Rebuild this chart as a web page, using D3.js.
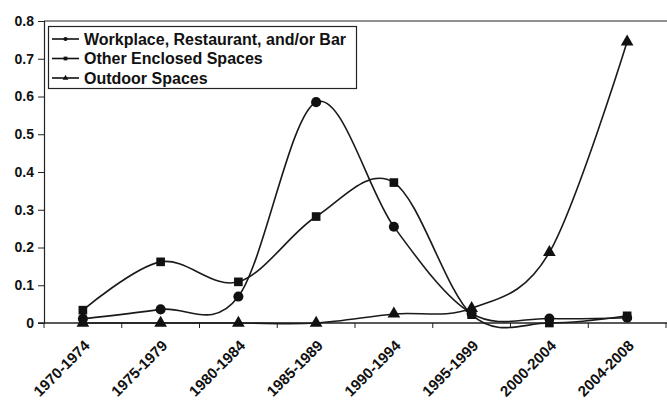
<!DOCTYPE html>
<html>
<head>
<meta charset="utf-8">
<script src="https://cdn.jsdelivr.net/npm/d3@7"></script>
<style>
  body { margin: 0; background: #fff; }
  text { font-family: "Liberation Sans", Arial, sans-serif; font-weight: bold; fill: #111; }
</style>
</head>
<body>
<script>
// data
var periods = ["1970-1974", "1975-1979", "1980-1984", "1985-1989", "1990-1994", "1995-1999", "2000-2004", "2004-2008"];
var workplace = [0.011, 0.036, 0.07, 0.585, 0.255, 0.025, 0.012, 0.014];
var enclosed = [0.034, 0.162, 0.109, 0.282, 0.372, 0.022, 0.0, 0.019];
var outdoor = [0.0, 0.0, 0.0, 0.0, 0.024, 0.039, 0.187, 0.745];
var seriesNames = ["Workplace, Restaurant, and/or Bar", "Other Enclosed Spaces", "Outdoor Spaces"];
var yTicks = [0, 0.1, 0.2, 0.3, 0.4, 0.5, 0.6, 0.7, 0.8];

var width = 667, height = 404;
var pLeft = 44, pRight = 666, pTop = 21, pBottom = 323;

var svg = d3.select("body").append("svg")
  .attr("width", width)
  .attr("height", height);

var x = d3.scaleBand().domain(periods).range([pLeft, pRight]);
var y = d3.scaleLinear().domain([0, 0.8]).range([pBottom, pTop]);

// top frame line
svg.append("line")
  .attr("x1", pLeft).attr("x2", width)
  .attr("y1", pTop).attr("y2", pTop)
  .attr("stroke", "#222").attr("stroke-width", 1.2);

// y axis
var yAxis = svg.append("g")
  .attr("transform", "translate(" + pLeft + ",0)")
  .call(d3.axisLeft(y).tickValues(yTicks).tickSize(6).tickPadding(4)
    .tickFormat(function(d) { return d === 0 ? "0" : d3.format(".1f")(d); }));
yAxis.select(".domain").attr("stroke", "#222").attr("stroke-width", 1.2);
yAxis.selectAll(".tick line").attr("stroke", "#222");
yAxis.selectAll("text").style("font-size", "14px").attr("fill", "#111");

// x axis, ticks between categories
var xAxis = svg.append("g").attr("transform", "translate(0," + pBottom + ")");
xAxis.append("line")
  .attr("x1", pLeft - 6).attr("x2", width)
  .attr("stroke", "#222").attr("stroke-width", 1.5);
xAxis.selectAll(".xt")
  .data(periods.concat(["end"]))
  .enter().append("line")
  .attr("x1", function(d, i) { return pLeft + i * x.bandwidth(); })
  .attr("x2", function(d, i) { return pLeft + i * x.bandwidth(); })
  .attr("y1", 0).attr("y2", 5)
  .attr("stroke", "#222");
xAxis.selectAll(".xl")
  .data(periods)
  .enter().append("text")
  .attr("transform", function(d) {
    return "translate(" + (x(d) + x.bandwidth() / 2 + 4) + ",20) rotate(-45)";
  })
  .attr("text-anchor", "end")
  .attr("dy", "0.35em")
  .style("font-size", "15px")
  .text(function(d) { return d; });

var cx = function(i) { return x(periods[i]) + x.bandwidth() / 2; };

var line = d3.line()
  .x(function(d, i) { return cx(i); })
  .y(function(d) { return y(d); })
  .curve(d3.curveCatmullRom.alpha(0));

var allSeries = [workplace, enclosed, outdoor];
var shapes = [d3.symbolCircle, d3.symbolSquare, d3.symbolTriangle];
var sizes = [80, 75, 70];

allSeries.forEach(function(s, k) {
  svg.append("path")
    .datum(s)
    .attr("fill", "none")
    .attr("stroke", "#1a1a1a")
    .attr("stroke-width", 1.6)
    .attr("d", line);
  svg.selectAll(".m" + k)
    .data(s)
    .enter().append("path")
    .attr("transform", function(d, i) { return "translate(" + cx(i) + "," + y(d) + ")"; })
    .attr("d", d3.symbol().type(shapes[k]).size(sizes[k]))
    .attr("fill", "#111");
});

// legend
var lg = svg.append("g");
lg.append("rect")
  .attr("x", 48.5).attr("y", 26.5)
  .attr("width", 308).attr("height", 62)
  .attr("fill", "#fff").attr("stroke", "#222").attr("stroke-width", 1.2);
seriesNames.forEach(function(name, k) {
  var ly = 39 + k * 19.5;
  lg.append("line")
    .attr("x1", 52).attr("x2", 79).attr("y1", ly).attr("y2", ly)
    .attr("stroke", "#111").attr("stroke-width", 1.6);
  lg.append("path")
    .attr("transform", "translate(65.5," + ly + ")")
    .attr("d", d3.symbol().type(shapes[k]).size(14))
    .attr("fill", "#111");
  lg.append("text")
    .attr("x", 84).attr("y", ly)
    .attr("dy", "0.36em")
    .style("font-size", "16px")
    .text(name);
});
</script>
</body>
</html>
